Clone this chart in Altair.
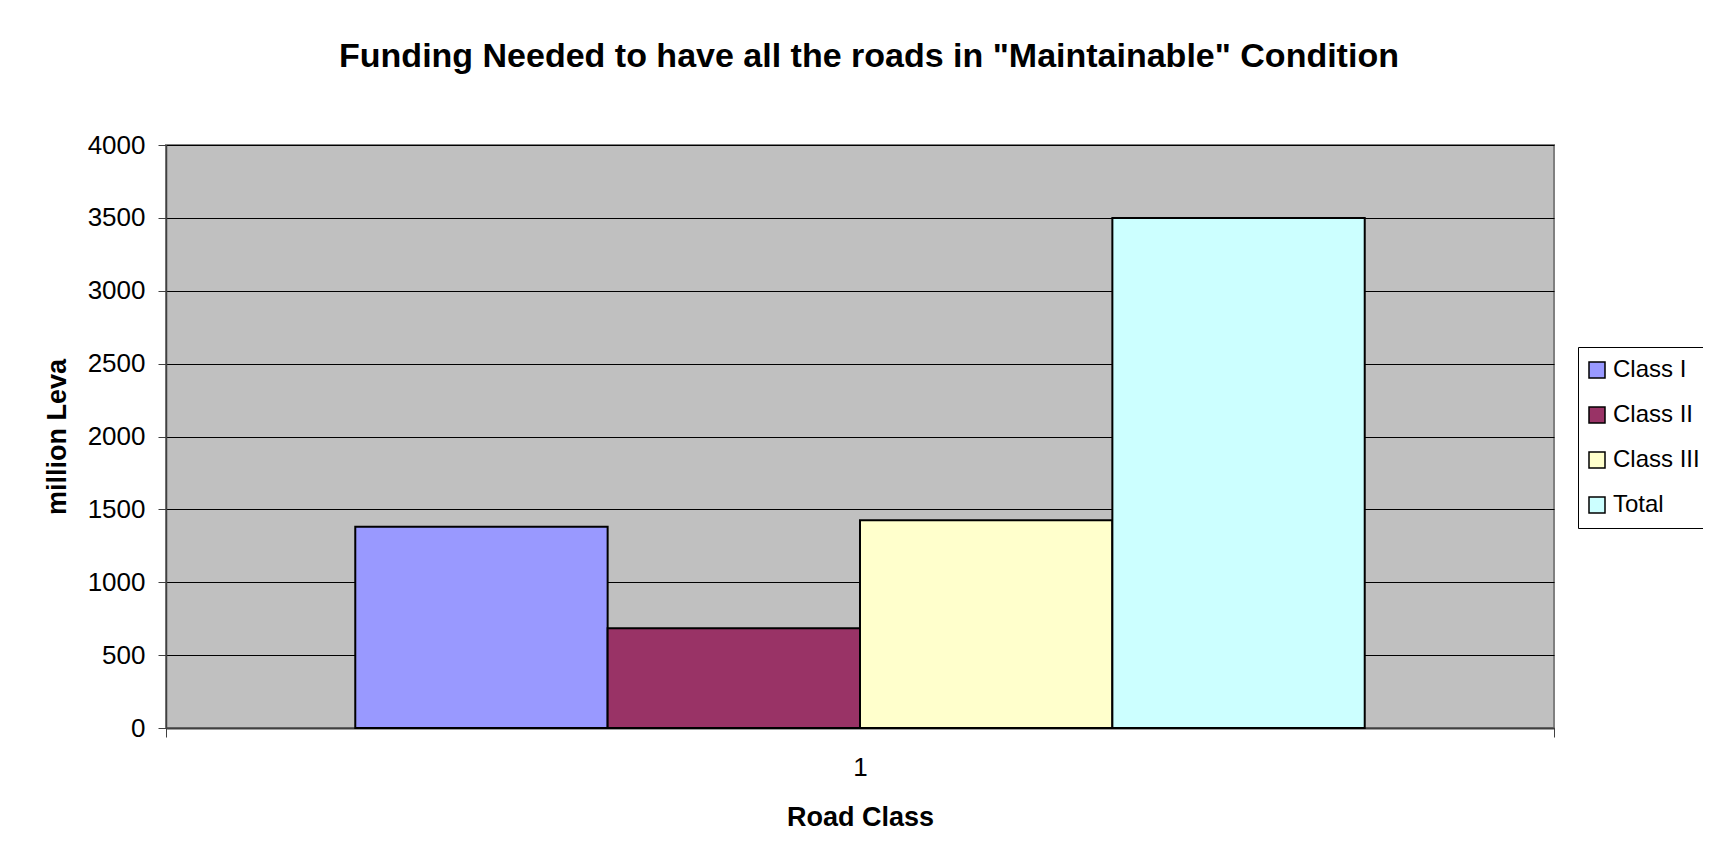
import altair as alt
import pandas as pd

# ---- data ----
series = ["Class I", "Class II", "Class III", "Total"]
values = [1380, 685, 1425, 3500]
category = ["1", "1", "1", "1"]
colors = ["#9999FF", "#993366", "#FFFFCC", "#CCFFFF"]
y_ticks = [0, 500, 1000, 1500, 2000, 2500, 3000, 3500, 4000]

df = pd.DataFrame({"cat": category, "series": series, "value": values})

FONT = "Liberation Sans"

bars = alt.Chart(df).mark_bar(stroke="black", strokeWidth=2).encode(
    x=alt.X(
        "cat:N",
        title="Road Class",
        scale=alt.Scale(paddingInner=0, paddingOuter=0),
        axis=alt.Axis(
            labelAngle=0,
            tickBand="extent",
            tickSize=9,
            labelPadding=17,
            titlePadding=24,
            domainColor="#404040",
            domainWidth=2,
            tickColor="#404040",
        ),
    ),
    xOffset=alt.XOffset(
        "series:N", sort=series,
        scale=alt.Scale(paddingOuter=0.75, paddingInner=0),
    ),
    y=alt.Y(
        "value:Q",
        title="million Leva",
        scale=alt.Scale(domain=[0, 4000], nice=False),
        axis=alt.Axis(
            values=y_ticks,
            format="d",
            tickSize=8,
            labelPadding=13,
            titlePadding=16,
            grid=True,
            gridColor="#000000",
            gridWidth=1,
            domainColor="#404040",
            domainWidth=1.5,
            tickColor="#404040",
        ),
    ),
    color=alt.Color(
        "series:N",
        sort=series,
        scale=alt.Scale(domain=series, range=colors),
        legend=alt.Legend(
            title=None,
            orient="none",
            legendX=1412,
            legendY=202,
            padding=11,
            strokeColor="#000000",
            fillColor="#FFFFFF",
            symbolType="square",
            symbolSize=256,
            symbolOffset=-4,
            symbolStrokeColor="#000000",
            symbolStrokeWidth=1.5,
            symbolOpacity=1,
            labelFont=FONT,
            labelFontSize=24,
            labelColor="#000000",
            labelOffset=4,
            rowPadding=21,
        ),
    ),
)

chart = bars.properties(
    width=1388,
    height=583,
    autosize=alt.AutoSizeParams(type="none"),
    padding={"left": 158, "top": 137, "right": 149, "bottom": 127},
    title=alt.TitleParams(
        text='Funding Needed to have all the roads in "Maintainable" Condition',
        font=FONT,
        fontSize=34,
        fontWeight="bold",
        color="#000000",
        anchor="middle",
        dx=9,
        offset=58,
    ),
).configure(
    background="#FFFFFF",
).configure_view(
    fill="#C0C0C0",
    stroke="#808080",
    strokeWidth=2,
).configure_axis(
    labelFont=FONT,
    labelFontSize=26,
    labelColor="#000000",
    titleFont=FONT,
    titleFontSize=27,
    titleFontWeight="bold",
    titleColor="#000000",
)

chart.save("out.html", embed_options={"renderer": "svg", "actions": False})
